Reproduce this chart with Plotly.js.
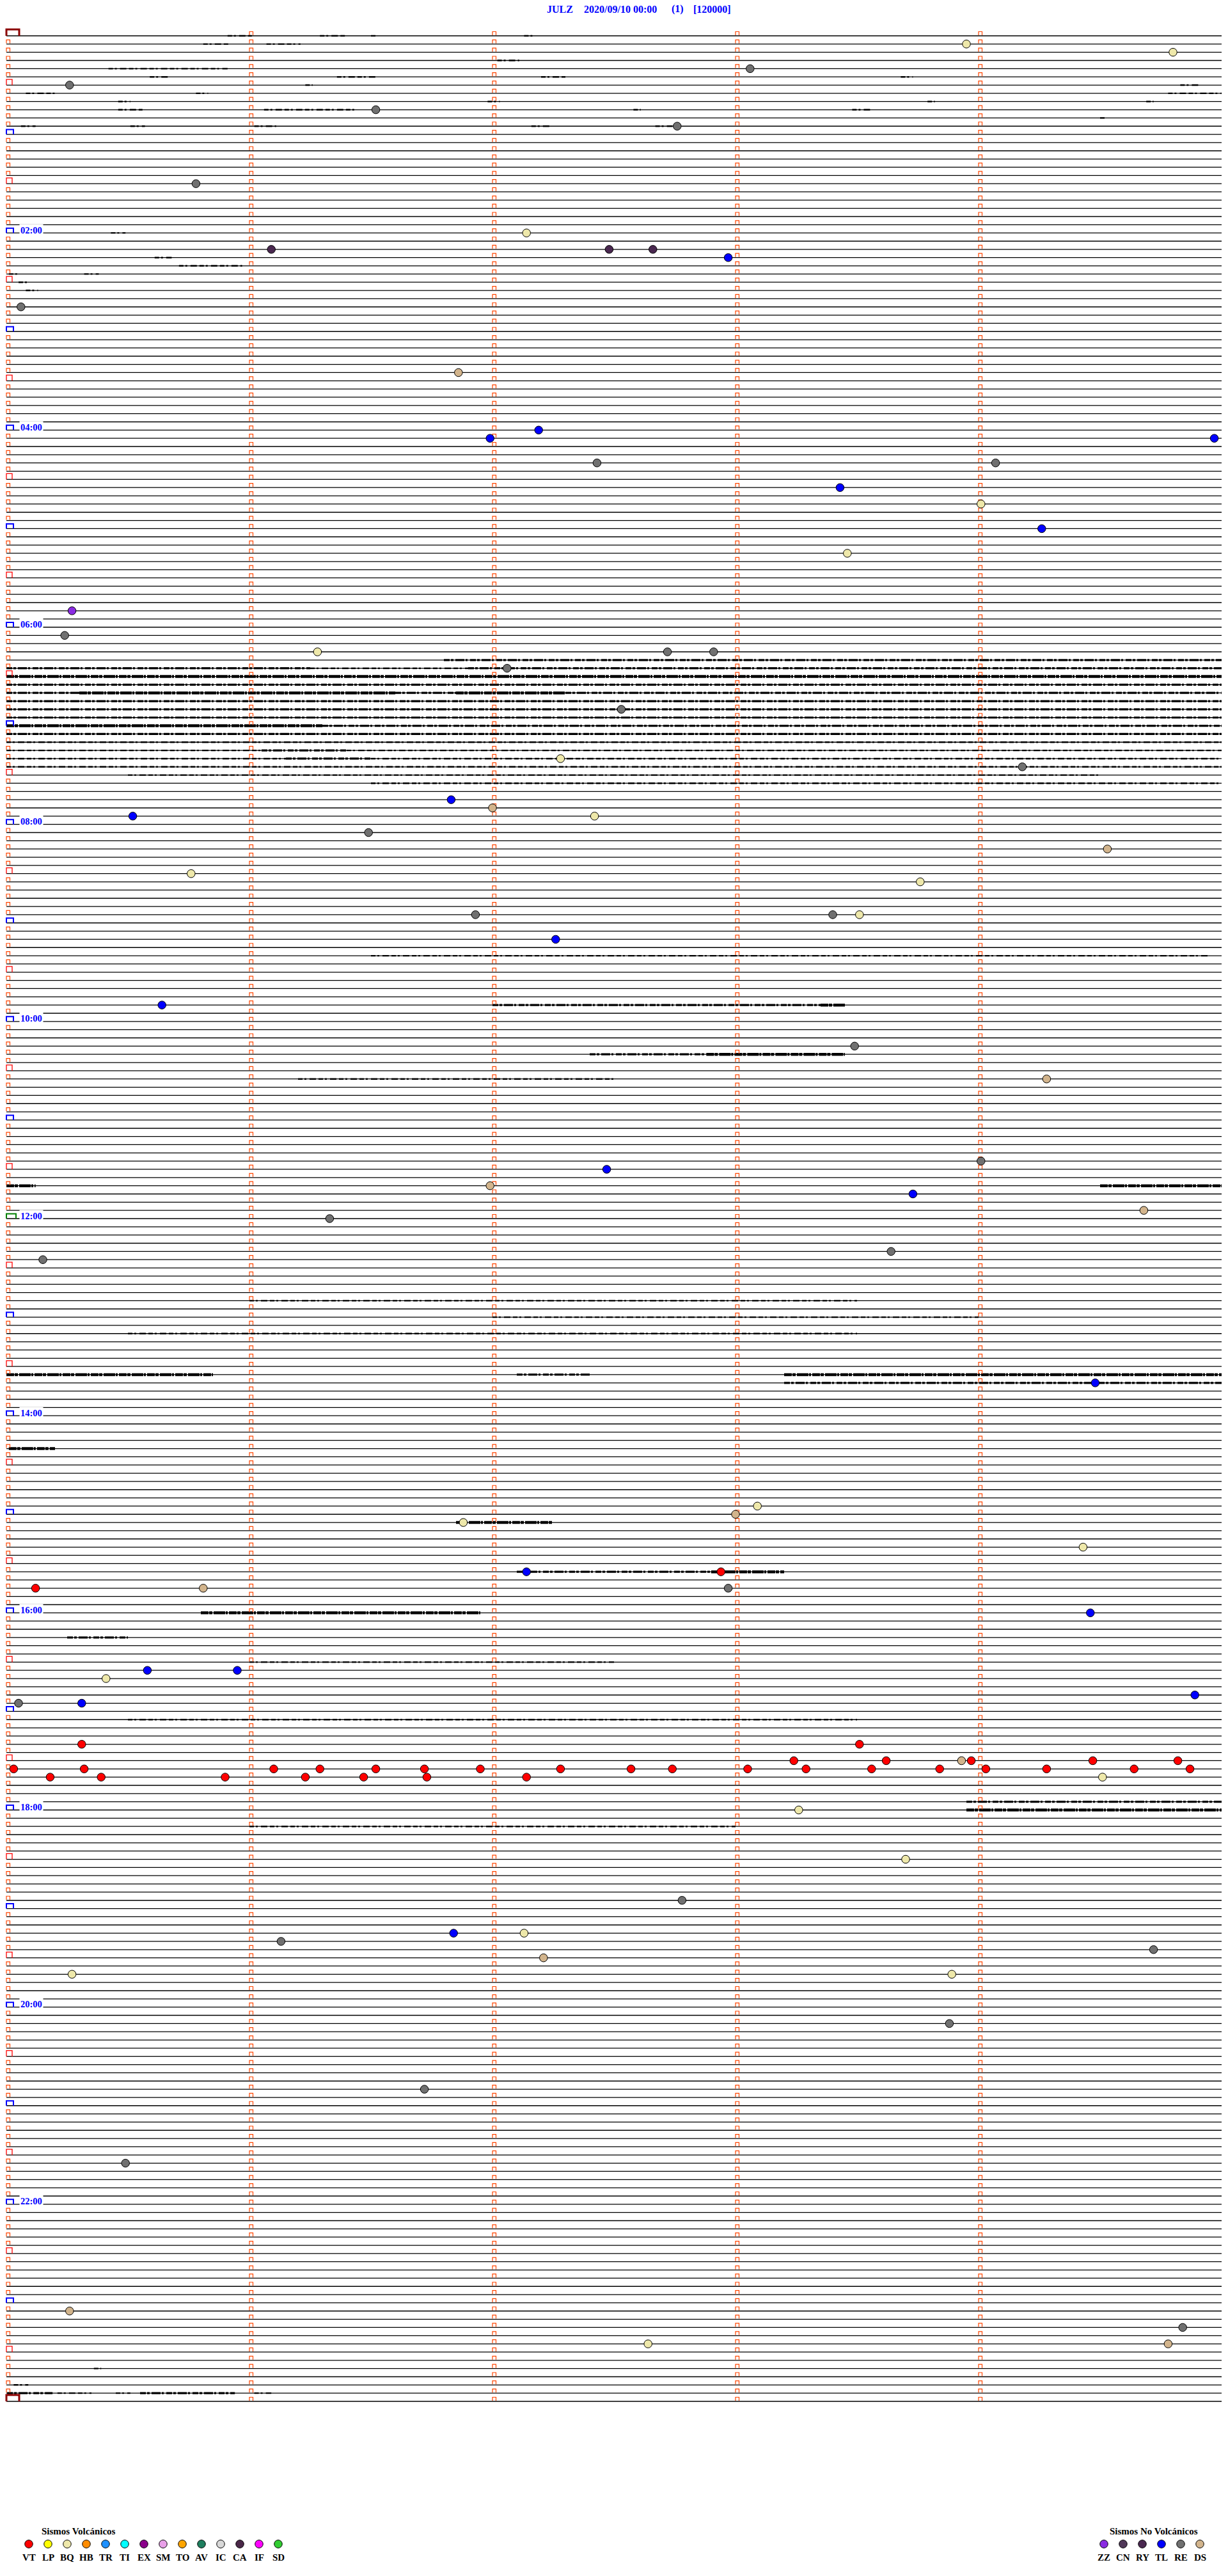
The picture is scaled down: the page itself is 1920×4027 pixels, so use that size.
<!DOCTYPE html>
<html><head><meta charset="utf-8">
<script src="https://cdn.plot.ly/plotly-3.0.1.min.js"></script>
<style>html,body{margin:0;padding:0;background:#fff;}#chart{width:1920px;height:4027px;}</style>
</head><body><div id="chart"></div>
<script>
// ---------------- DATA ----------------
const titleParts = ['JULZ', '2020/09/10 00:00', '(1)', '[120000]'];
const rowCount = 289;            // 5-minute rows, 00:00 .. 24:00
const rowMinutes = 5;
const minuteTicks = [0, 1, 2, 3, 4];
const halfHourRows = [6,18,30,42,54,66,78,90,102,114,126,138,150,162,174,186,198,210,222,234,246,258,270,282];
const hourRows = [12,24,36,48,60,72,84,96,108,120,132,144,156,168,180,192,204,216,228,240,252,264,276];
const labelRows = [24,48,72,96,120,144,168,192,216,240,264];
const labelTexts = ['02:00','04:00','06:00','08:00','10:00','12:00','14:00','16:00','18:00','20:00','22:00'];
const dayRows = [0, 288];
const noonRow = 144;

// event types and colours
const volcTypes = ['VT','LP','BQ','HB','TR','TI','EX','SM','TO','AV','IC','CA','IF','SD'];
const volcColors = ['#ff0000','#ffff00','#eee8aa','#ff8c00','#1e90ff','#00ffff','#8b008b','#e8a0e8','#ffa500','#1f7f5f','#d8d8d8','#4a2848','#ff00ff','#32cd32'];
const nonVolcTypes = ['ZZ','CN','RY','TL','RE','DS'];
const nonVolcColors = ['#8a2be2','#503858','#4a2850','#0000ff','#707070','#d2b48c'];

// events per type: [row, minute within the 5-minute row]
const eventsVT = [[187,2.94],[189,0.12],[208,0.31],[208,3.51],
  [210,3.24],[210,3.62],[210,3.97],[210,4.47],[210,4.82],
  [211,0.03],[211,0.32],[211,1.10],[211,1.29],[211,1.52],[211,1.72],[211,1.95],[211,2.28],[211,2.57],[211,2.74],[211,3.05],[211,3.29],[211,3.56],[211,3.84],[211,4.03],[211,4.28],[211,4.64],[211,4.87],
  [212,0.18],[212,0.39],[212,0.90],[212,1.23],[212,1.47],[212,1.73],[212,2.14]];
const eventsBQ = [[1,3.95],[2,4.80],[24,2.14],[57,4.01],[63,3.46],[75,1.28],[88,2.28],[95,2.42],[102,0.76],[103,3.76],[107,3.51],[179,3.09],[181,1.88],[184,4.43],[200,0.41],[212,4.51],[216,3.26],[222,3.70],[231,2.13],[236,0.27],[236,3.89],[281,2.64]];
const eventsRE = [[4,3.06],[6,0.26],[9,1.52],[11,2.76],[18,0.78],[33,0.06],[52,2.43],[52,4.07],[73,0.24],[75,2.72],[75,2.91],[77,2.06],[82,2.53],[89,4.18],[97,1.49],[107,1.93],[107,3.40],[123,3.49],[137,4.01],[144,1.33],[149,0.15],[148,3.64],[189,2.97],[203,0.05],[227,2.78],[233,4.72],[232,1.13],[242,3.88],[250,1.72],[259,0.49],[279,4.84]];
const eventsTL = [[27,2.97],[49,1.99],[48,2.19],[49,4.97],[55,3.43],[60,4.26],[93,1.83],[95,0.52],[110,2.26],[118,0.64],[138,2.47],[141,3.73],[164,4.48],[187,2.14],[192,4.46],[199,0.58],[199,0.95],[202,4.89],[203,0.31],[231,1.84]];
const eventsDS = [[41,1.86],[94,2.00],[99,4.53],[127,4.28],[140,1.99],[143,4.68],[180,3.00],[189,0.81],[210,3.93],[234,2.21],[277,0.26],[281,4.78]];
const eventsRY = [[26,1.09],[26,2.48],[26,2.66]];
const eventsZZ = [[70,0.27]];

// noise bursts on the trace: [row, start minute, end minute]
const burstsLight = [[0,0.91,1.01],[0,1.29,1.40],[0,1.50,1.52],[0,2.13,2.17],[1,0.81,0.92],[1,1.07,1.21],[3,2.02,2.11],[4,0.42,0.91],[5,0.59,0.67],[5,1.36,1.52],[5,2.20,2.30],[5,3.68,3.73],[6,1.23,1.26],[6,4.83,4.91],[7,0.08,0.20],[7,0.78,0.83],[7,4.78,5.0],[8,0.46,0.51],[8,1.98,2.03],[8,3.79,3.82],[8,4.69,4.72],[9,0.46,0.56],[9,1.06,1.44],[9,2.58,2.61],[9,3.48,3.56],[10,4.50,4.52],[11,0.06,0.12],[11,0.51,0.57],[11,1.02,1.11],[11,2.16,2.24],[11,2.67,2.74],
  [24,0.43,0.49],[27,0.61,0.68],[28,0.71,0.97],[29,0.01,0.05],[29,0.32,0.38],[30,0.05,0.09],[31,0.08,0.13],
  [77,1.25,1.9],[86,0,5],[87,0,1.05],[87,1.4,5],[88,0,1.15],[88,1.5,5],[89,0,5],[90,0.5,4.5],[91,1.5,5],
  [112,1.5,4.95],[127,1.2,2.5],[154,1.0,3.5],[156,2.0,4.0],[158,0.5,3.5],[198,1.0,2.5],[205,0.5,3.5],[218,1.0,3.0],
  [284,0.36,0.39],[286,0.03,0.09],[287,0.21,0.35],[287,0.45,0.51],[287,1.02,1.09]];
const burstsMedium = [[76,1.8,5],[77,0,1.25],[77,1.9,5],[79,0,5],[80,0,0.3],[80,1.6,1.85],[80,2.3,5],[81,0,5],[82,0,5],[83,0,5],[84,1.3,5],[85,0,5],[87,1.05,1.4],[88,1.15,1.5],
  [118,2.0,3.35],[124,2.4,2.88],[163,2.1,2.4],[164,3.2,5],[187,2.1,2.9],[195,0.25,0.5],[215,3.95,5],
  [287,0.003,0.19],[287,0.55,0.94]];
const burstsStrong = [[78,0,5],[80,0.3,1.6],[80,1.85,2.3],[84,0,1.3],
  [118,3.35,3.45],[124,2.88,3.45],[140,4.5,5],[140,0,0.12],[163,0,0.85],[163,3.2,5],[172,0.01,0.2],
  [181,1.85,2.25],[187,2.9,3.2],[192,0.8,1.95],[216,3.95,5]];

// ---------------- GEOMETRY (style) ----------------
const W = 1920, H = 4027;
const X0 = 10, PXMIN = 380;             // pixel of minute 0, pixels per minute
const Y0 = 56, PXROW = 3698 / 288;      // pixel of row 0, pixels per row
const xr = [-X0 / PXMIN, (W - X0) / PXMIN];
const yr = [(H - Y0) / PXROW, -Y0 / PXROW];
const dx = p => p / PXMIN;
const dy = p => p / PXROW;
const px2x = p => (p - X0) / PXMIN;
const px2y = p => (p - Y0) / PXROW;

const traces = [];

// baselines
(function () {
  const x = [], y = [];
  for (let r = 0; r < rowCount; r++) { x.push(0, rowMinutes, null); y.push(r, r, null); }
  traces.push({ type: 'scatter', mode: 'lines', x, y, line: { color: '#000', width: 1.3 }, hoverinfo: 'skip' });
})();

// bursts
const burstSets = [
  { data: burstsLight, w: 2.4, dash: '7px,3px,3px,5px,10px,4px' },
  { data: burstsMedium, w: 3.2, dash: '9px,2px,4px,3px,14px,2px,3px,4px' },
  { data: burstsStrong, w: 4.5, dash: '12px,1px,5px,2px,18px,1px,3px,2px' }
];
burstSets.forEach(s => {
  const x = [], y = [];
  s.data.forEach(b => { x.push(b[1], b[2], null); y.push(b[0], b[0], null); });
  traces.push({ type: 'scatter', mode: 'lines', x, y, line: { color: '#000', width: s.w, dash: s.dash }, hoverinfo: 'skip' });
});

// open box helper ("⊓" shape standing on the row line)
function boxPath(rows, cols, wPx, hPx, gapPx) {
  const x = [], y = [];
  rows.forEach(r => cols.forEach(c => {
    const a = c, b = c + dx(wPx), top = r - dy(hPx), bot = r - dy(gapPx);
    x.push(a, a, b, b, null); y.push(bot, top, top, bot, null);
  }));
  return { x, y };
}
(function () {
  const rowsFull = [], rowsRest = [];
  const special = new Set([...halfHourRows, ...hourRows, ...dayRows]);
  for (let r = 0; r < rowCount; r++) { rowsFull.push(r); if (!special.has(r)) rowsRest.push(r); }
  const p1 = boxPath(rowsFull, minuteTicks.slice(1), 5.5, 6.5, 1);
  const p2 = boxPath(rowsRest, [0], 5.5, 6.5, 1);
  traces.push({ type: 'scatter', mode: 'lines', x: p1.x.concat(p2.x), y: p1.y.concat(p2.y), line: { color: '#ff4500', width: 1.2 }, hoverinfo: 'skip' });
  const hh = boxPath(halfHourRows, [0], 9, 9, 0);
  traces.push({ type: 'scatter', mode: 'lines', x: hh.x, y: hh.y, line: { color: '#ff0000', width: 1.3 }, hoverinfo: 'skip' });
  const hr = boxPath(hourRows.filter(r => r !== noonRow), [0], 11, 7.5, 0);
  traces.push({ type: 'scatter', mode: 'lines', x: hr.x, y: hr.y, line: { color: '#0000ff', width: 2 }, hoverinfo: 'skip' });
  const nn = boxPath([noonRow], [0], 15, 7.5, 0);
  traces.push({ type: 'scatter', mode: 'lines', x: nn.x, y: nn.y, line: { color: '#008000', width: 2 }, hoverinfo: 'skip' });
  const dd = boxPath(dayRows, [0], 20, 10, 0);
  traces.push({ type: 'scatter', mode: 'lines', x: dd.x, y: dd.y, line: { color: '#8b0000', width: 3 }, hoverinfo: 'skip' });
})();

// events
const eventSets = [
  { data: eventsBQ, color: volcColors[2] },
  { data: eventsRE, color: nonVolcColors[4] },
  { data: eventsDS, color: nonVolcColors[5] },
  { data: eventsTL, color: nonVolcColors[3] },
  { data: eventsRY, color: nonVolcColors[2] },
  { data: eventsZZ, color: nonVolcColors[0] },
  { data: eventsVT, color: volcColors[0] }
];
eventSets.forEach(s => {
  traces.push({ type: 'scatter', mode: 'markers', x: s.data.map(e => e[1]), y: s.data.map(e => e[0]),
    marker: { size: 12.5, color: s.color, line: { color: '#000', width: 1 } }, hoverinfo: 'skip' });
});

// legend symbols
(function () {
  const lx = [], ly = [], lc = [];
  volcTypes.forEach((t, k) => { lx.push(px2x(45 + 30 * k)); ly.push(px2y(3977)); lc.push(volcColors[k]); });
  nonVolcTypes.forEach((t, k) => { lx.push(px2x(1726 + 30 * k)); ly.push(px2y(3977)); lc.push(nonVolcColors[k]); });
  traces.push({ type: 'scatter', mode: 'markers', x: lx, y: ly, marker: { size: 12.5, color: lc, line: { color: '#000', width: 1 } }, hoverinfo: 'skip' });
})();

// annotations
const serif = 'Liberation Serif, Times New Roman, serif';
const ann = [];
const titleLeft = [853, 911, 1048, 1082];
titleParts.forEach((t, i) => ann.push({ x: px2x(titleLeft[i]), y: px2y(14), xref: 'x', yref: 'y', text: '<b>' + t + '</b>', showarrow: false, xanchor: 'left', yanchor: 'middle', font: { family: serif, size: 16, color: '#0000ff' } }));
labelRows.forEach((r, i) => ann.push({ x: px2x(30), y: r - dy(4.5), xref: 'x', yref: 'y', text: '<b>' + labelTexts[i] + '</b>', showarrow: false, xanchor: 'left', yanchor: 'middle', bgcolor: '#fff', borderpad: 1, font: { family: serif, size: 14.5, color: '#0000ff' } }));
ann.push({ x: px2x(63), y: px2y(3957), xref: 'x', yref: 'y', text: '<b>Sismos Volcánicos</b>', showarrow: false, xanchor: 'left', yanchor: 'middle', font: { family: serif, size: 15, color: '#000' } });
ann.push({ x: px2x(1733), y: px2y(3957), xref: 'x', yref: 'y', text: '<b>Sismos No Volcánicos</b>', showarrow: false, xanchor: 'left', yanchor: 'middle', font: { family: serif, size: 15, color: '#000' } });
volcTypes.forEach((t, k) => ann.push({ x: px2x(45 + 30 * k), y: px2y(3998), xref: 'x', yref: 'y', text: '<b>' + t + '</b>', showarrow: false, xanchor: 'center', yanchor: 'middle', font: { family: serif, size: 15, color: '#000' } }));
nonVolcTypes.forEach((t, k) => ann.push({ x: px2x(1726 + 30 * k), y: px2y(3998), xref: 'x', yref: 'y', text: '<b>' + t + '</b>', showarrow: false, xanchor: 'center', yanchor: 'middle', font: { family: serif, size: 15, color: '#000' } }));

const layout = {
  width: W, height: H, margin: { l: 0, r: 0, t: 0, b: 0, pad: 0 },
  paper_bgcolor: '#fff', plot_bgcolor: '#fff', showlegend: false,
  xaxis: { range: xr, visible: false, fixedrange: true },
  yaxis: { range: yr, visible: false, fixedrange: true },
  annotations: ann
};
Plotly.newPlot('chart', traces, layout, { staticPlot: true, displayModeBar: false });
</script></body></html>
